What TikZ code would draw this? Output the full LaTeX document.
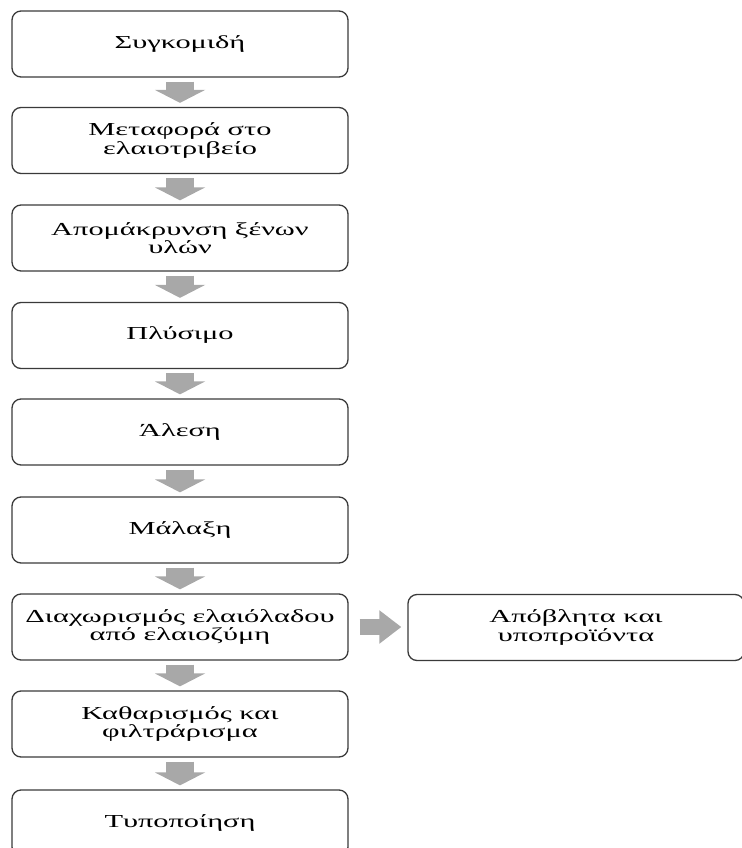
\documentclass[tikz,border=0pt]{standalone}
\usepackage{fontspec}
\setmainfont{Liberation Serif}[FakeStretch=1.66]
\usetikzlibrary{arrows.meta}
\definecolor{boxline}{HTML}{3A3A3A}
\definecolor{arrowgray}{HTML}{A8A8A8}
\tikzset{
  stepbox/.style={draw=boxline, line width=1.3pt, rounded corners=9pt,
    minimum width=336pt, minimum height=66pt, inner sep=0pt,
    align=center, font=\fontsize{18.3pt}{18.5pt}\selectfont},
  varrow/.style={draw=arrowgray, line width=28pt,
    -{Triangle[width=50pt,length=13pt]}},
  harrow/.style={draw=arrowgray, line width=16pt,
    -{Triangle[width=32pt,length=22pt]}}
}
\begin{document}
\begin{tikzpicture}[x=1pt,y=-1pt]
\useasboundingbox (0,0) rectangle (741,848);
\node[stepbox] (n1) at (180,44) {Συγκομιδή};
\node[stepbox] (n2) at (180,140.5) {Μεταφορά στο\\ελαιοτριβείο};
\node[stepbox] (n3) at (180,238) {Απομάκρυνση ξένων\\υλών};
\node[stepbox] (n4) at (180,335.5) {Πλύσιμο};
\node[stepbox] (n5) at (180,432) {Άλεση};
\node[stepbox] (n6) at (180,530) {Μάλαξη};
\node[stepbox] (n7) at (180,627) {Διαχωρισμός ελαιόλαδου\\από ελαιοζύμη};
\node[stepbox] (n8) at (180,724) {Καθαρισμός και\\φιλτράρισμα};
\node[stepbox] (n9) at (180,823) {Τυποποίηση};
\node[stepbox] (s7) at (576,627.5) {Απόβλητα και\\υποπροϊόντα};
\foreach \a/\b in {n1/n2,n2/n3,n3/n4,n4/n5,n5/n6,n6/n7,n7/n8,n8/n9}{
  \draw[varrow] ([yshift=-4pt]\a.south) -- ([yshift=4pt]\b.north);
}
\draw[harrow] ([xshift=11pt]n7.east) -- ([xshift=-6pt]s7.west |- n7.east);
\end{tikzpicture}
\end{document}
